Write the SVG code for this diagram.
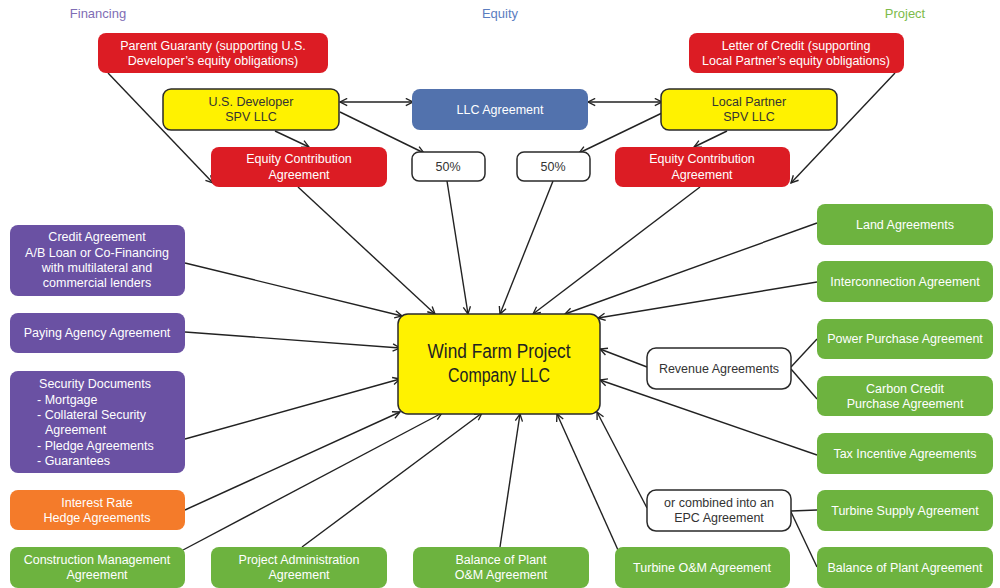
<svg xmlns="http://www.w3.org/2000/svg" width="1000" height="588" viewBox="0 0 1000 588">
<style>
text{font-family:"Liberation Sans",Arial,sans-serif;font-size:12.5px;text-anchor:middle}
.w{fill:#ffffff}
.d{fill:#333333}
.hdr{font-size:13px}
.red{fill:#dc1c24}
.yel{fill:#fff200;stroke:#2a2a2a;stroke-width:1.5}
.blu{fill:#5272ad}
.pur{fill:#6a51a3}
.org{fill:#f47b2a}
.grn{fill:#6db33f}
.wht{fill:#ffffff;stroke:#2a2a2a;stroke-width:1.5}
.c line{stroke:#222222;stroke-width:1.4;fill:none}
.ctr{font-family:"Liberation Sans",Arial,sans-serif;font-size:20px;fill:#222222}
.l{text-anchor:start}
</style>
<defs>
<marker id="ah" viewBox="0 0 10 10" refX="9" refY="5" markerWidth="9" markerHeight="9" markerUnits="userSpaceOnUse" orient="auto-start-reverse">
<path d="M1,1 L9,5 L1,9" fill="none" stroke="#222222" stroke-width="1.5"/>
</marker>
</defs>
<rect width="1000" height="588" fill="#ffffff"/>

<text x="98" y="18" class="hdr" fill="#7f6db5">Financing</text>
<text x="500" y="18" class="hdr" fill="#5b7dbf">Equity</text>
<text x="905" y="18" class="hdr" fill="#7dbb4a">Project</text>

<g class="c">
<line x1="108" y1="73" x2="213" y2="183" marker-end="url(#ah)"/>
<line x1="895" y1="73" x2="791" y2="183" marker-end="url(#ah)"/>
<line x1="340" y1="102" x2="413" y2="102" marker-start="url(#ah)" marker-end="url(#ah)"/>
<line x1="588" y1="102" x2="662" y2="102" marker-start="url(#ah)" marker-end="url(#ah)"/>
<line x1="275" y1="131" x2="309" y2="147" marker-end="url(#ah)"/>
<line x1="340" y1="112" x2="424" y2="153" marker-end="url(#ah)"/>
<line x1="727" y1="131" x2="694" y2="147" marker-end="url(#ah)"/>
<line x1="662" y1="113" x2="579" y2="153" marker-end="url(#ah)"/>
<line x1="298" y1="187" x2="435" y2="314" marker-end="url(#ah)"/>
<line x1="447" y1="181" x2="468" y2="314" marker-end="url(#ah)"/>
<line x1="553" y1="181" x2="500" y2="314" marker-end="url(#ah)"/>
<line x1="700" y1="187" x2="533" y2="314" marker-end="url(#ah)"/>
<line x1="817" y1="223" x2="565" y2="314" marker-end="url(#ah)"/>
<line x1="817" y1="282" x2="598" y2="318" marker-end="url(#ah)"/>
<line x1="185" y1="263" x2="402" y2="316" marker-end="url(#ah)"/>
<line x1="185" y1="332" x2="400" y2="348" marker-end="url(#ah)"/>
<line x1="185" y1="439" x2="400" y2="379" marker-end="url(#ah)"/>
<line x1="185" y1="510" x2="400" y2="412" marker-end="url(#ah)"/>
<line x1="183" y1="550" x2="442" y2="413" marker-end="url(#ah)"/>
<line x1="302" y1="547" x2="482" y2="413" marker-end="url(#ah)"/>
<line x1="500" y1="547" x2="520" y2="414" marker-end="url(#ah)"/>
<line x1="618" y1="550" x2="557" y2="414" marker-end="url(#ah)"/>
<line x1="647" y1="508" x2="597" y2="412" marker-end="url(#ah)"/>
<line x1="817" y1="455" x2="600" y2="380" marker-end="url(#ah)"/>
<line x1="647" y1="367" x2="600" y2="349" marker-end="url(#ah)"/>
<line x1="791" y1="367" x2="817" y2="339"/>
<line x1="791" y1="369" x2="817" y2="399"/>
<line x1="791" y1="511" x2="817" y2="510"/>
<line x1="791" y1="512" x2="817" y2="567"/>
</g>

<g id="parent-guaranty"><rect x="98" y="33" width="230" height="40" rx="8" class="red"/><text x="213" y="50" class="w">Parent Guaranty (supporting U.S.</text><text x="213" y="65" class="w">Developer’s equity obligations)</text></g>
<g id="letter-of-credit"><rect x="689" y="33" width="215" height="40" rx="8" class="red"/><text x="796" y="50" class="w">Letter of Credit (supporting</text><text x="796" y="65" class="w">Local Partner’s equity obligations)</text></g>
<g id="us-developer"><rect x="163" y="89" width="176" height="41" rx="8" class="yel"/><text x="251" y="106" class="d">U.S. Developer</text><text x="251" y="121" class="d">SPV LLC</text></g>
<g id="llc-agreement"><rect x="412" y="89" width="176" height="41" rx="8" class="blu"/><text x="500" y="114" class="w">LLC Agreement</text></g>
<g id="local-partner"><rect x="661" y="89" width="176" height="41" rx="8" class="yel"/><text x="749" y="106" class="d">Local Partner</text><text x="749" y="121" class="d">SPV LLC</text></g>
<g id="equity-left"><rect x="211" y="147" width="176" height="40" rx="8" class="red"/><text x="299" y="163" class="w">Equity Contribution</text><text x="299" y="179" class="w">Agreement</text></g>
<g id="pct-left"><rect x="412" y="152" width="73" height="29" rx="7" class="wht"/><text x="448" y="171" class="d">50%</text></g>
<g id="pct-right"><rect x="517" y="152" width="73" height="29" rx="7" class="wht"/><text x="553" y="171" class="d">50%</text></g>
<g id="equity-right"><rect x="615" y="147" width="175" height="40" rx="8" class="red"/><text x="702" y="163" class="w">Equity Contribution</text><text x="702" y="179" class="w">Agreement</text></g>

<g id="wind-farm"><rect x="398" y="314" width="202" height="100" rx="10" class="yel"/><text x="499" y="358" class="ctr" textLength="143" lengthAdjust="spacingAndGlyphs">Wind Farm Project</text><text x="499" y="382" class="ctr" textLength="102" lengthAdjust="spacingAndGlyphs">Company LLC</text></g>

<g id="credit-agreement"><rect x="10" y="225" width="175" height="71" rx="8" class="pur"/><text x="97" y="241" class="w">Credit Agreement</text><text x="97" y="257" class="w">A/B Loan or Co-Financing</text><text x="97" y="272" class="w">with multilateral and</text><text x="97" y="287" class="w">commercial lenders</text></g>
<g id="paying-agency"><rect x="10" y="313" width="175" height="40" rx="8" class="pur"/><text x="97" y="337" class="w">Paying Agency Agreement</text></g>
<g id="security-documents"><rect x="10" y="371" width="175" height="102" rx="8" class="pur"/><text x="95" y="388" class="w">Security Documents</text><text x="37" y="404" class="w l">- Mortgage</text><text x="37" y="419" class="w l">- Collateral Security</text><text x="45" y="434" class="w l">Agreement</text><text x="37" y="450" class="w l">- Pledge Agreements</text><text x="37" y="465" class="w l">- Guarantees</text></g>
<g id="interest-rate"><rect x="10" y="490" width="175" height="40" rx="8" class="org"/><text x="97" y="507" class="w">Interest Rate</text><text x="97" y="522" class="w">Hedge Agreements</text></g>
<g id="construction-management"><rect x="10" y="547" width="175" height="41" rx="8" class="grn"/><text x="97" y="564" class="w">Construction Management</text><text x="97" y="579" class="w">Agreement</text></g>
<g id="project-administration"><rect x="211" y="547" width="176" height="41" rx="8" class="grn"/><text x="299" y="564" class="w">Project Administration</text><text x="299" y="579" class="w">Agreement</text></g>
<g id="bop-om"><rect x="413" y="547" width="176" height="41" rx="8" class="grn"/><text x="501" y="564" class="w">Balance of Plant</text><text x="501" y="579" class="w">O&amp;M Agreement</text></g>
<g id="turbine-om"><rect x="615" y="547" width="175" height="41" rx="8" class="grn"/><text x="702" y="572" class="w">Turbine O&amp;M Agreement</text></g>

<g id="land"><rect x="817" y="204" width="176" height="41" rx="8" class="grn"/><text x="905" y="229" class="w">Land Agreements</text></g>
<g id="interconnection"><rect x="817" y="261" width="176" height="41" rx="8" class="grn"/><text x="905" y="286" class="w">Interconnection Agreement</text></g>
<g id="power-purchase"><rect x="817" y="319" width="176" height="40" rx="8" class="grn"/><text x="905" y="343" class="w">Power Purchase Agreement</text></g>
<g id="carbon-credit"><rect x="817" y="376" width="176" height="40" rx="8" class="grn"/><text x="905" y="393" class="w">Carbon Credit</text><text x="905" y="408" class="w">Purchase Agreement</text></g>
<g id="tax-incentive"><rect x="817" y="433" width="176" height="41" rx="8" class="grn"/><text x="905" y="458" class="w">Tax Incentive Agreements</text></g>
<g id="turbine-supply"><rect x="817" y="490" width="176" height="41" rx="8" class="grn"/><text x="905" y="515" class="w">Turbine Supply Agreement</text></g>
<g id="bop-agreement"><rect x="817" y="547" width="176" height="41" rx="8" class="grn"/><text x="905" y="572" class="w">Balance of Plant Agreement</text></g>

<g id="revenue-agreements"><rect x="647" y="348" width="144" height="41" rx="9" class="wht"/><text x="719" y="373" class="d">Revenue Agreements</text></g>
<g id="epc"><rect x="647" y="490" width="144" height="41" rx="9" class="wht"/><text x="719" y="507" class="d">or combined into an</text><text x="719" y="522" class="d">EPC Agreement</text></g>
</svg>
